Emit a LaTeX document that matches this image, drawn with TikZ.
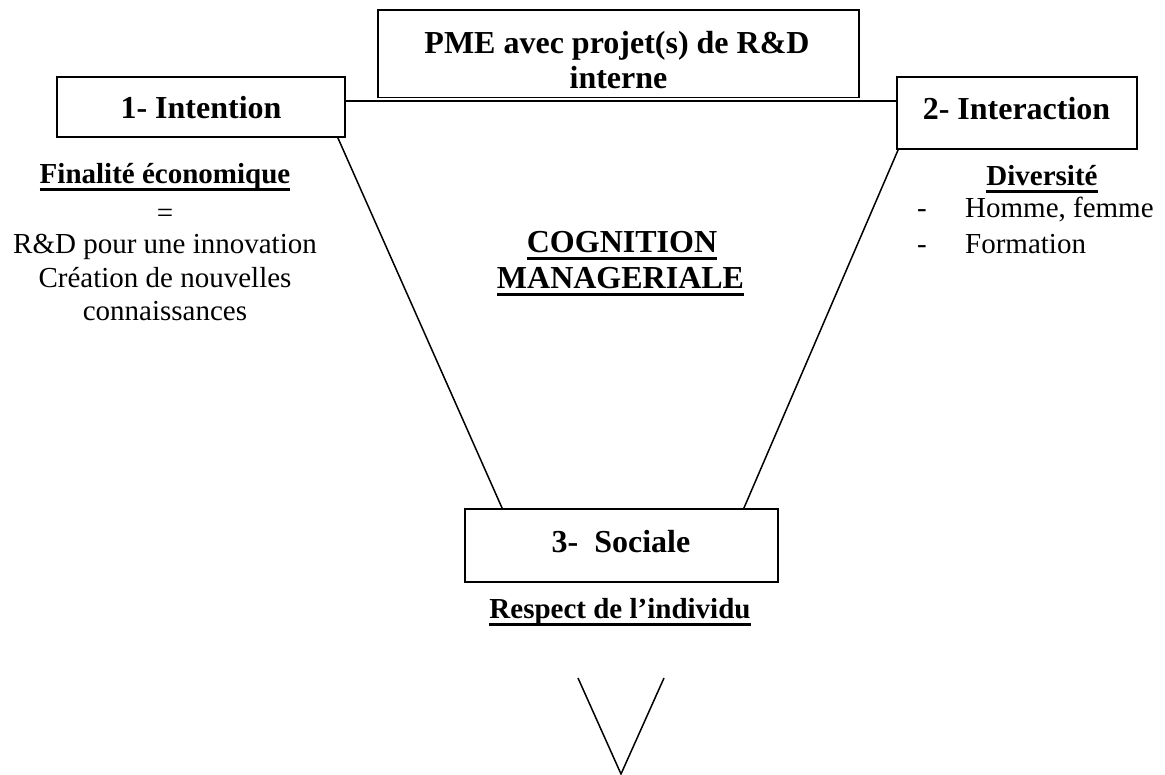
\documentclass[tikz,border=0pt]{standalone}
\usepackage{fontspec}
\setmainfont{Liberation Serif}
\usetikzlibrary{calc}
% thick underline drawn under a box of text
\newsavebox\ulbox
\newcommand\ulin[1]{\sbox\ulbox{#1}\usebox\ulbox\llap{\rule[-0.26em]{\wd\ulbox}{0.09em}}}
\begin{document}
\begin{tikzpicture}[x=1pt,y=-1pt,
  framebox/.style={draw, line width=1.8pt, inner sep=0pt},
  conn/.style={line width=1.5pt},
  head/.style={font=\bfseries\fontsize{32}{36}\selectfont, inner sep=0pt, anchor=base},
  body/.style={font=\fontsize{29}{33}\selectfont, inner sep=0pt, anchor=base},
  bodyb/.style={font=\bfseries\fontsize{29}{33}\selectfont, inner sep=0pt, anchor=base}]
\useasboundingbox (0,0) rectangle (1165,774);

% frames
\node[framebox, minimum width=481, minimum height=87.5] (top) at (618.5,53.75) {};
\node[framebox, minimum width=288, minimum height=60] (b1) at (201,107) {};
\node[framebox, minimum width=240, minimum height=72] (b2) at (1017,113) {};
\node[framebox, minimum width=313, minimum height=73] (b3) at (621.5,545.5) {};

% frame titles
\node[head] (toptxt1) at (617,53) {PME avec projet(s) de R\&D};
\node[head] (toptxt2) at (618.5,88) {interne};
\node[head] (t1) at (201,118) {1- Intention};
\node[head] (t2) at (1016.5,119) {2- Interaction};
\node[head] (t3) at (621,552) {3-~ Sociale};

% connectors
\coordinate (hl) at (0,101);
\draw[conn] (b1.east |- hl) -- (b2.west |- hl);
\draw[conn] ($(b1.south east)+(-8,0)$) -- ($(b3.north west)+(38,0)$);
\draw[conn] ($(b2.south west)+(2,0)$) -- ($(b3.north east)+(-35,0)$);

% centre
\node[head] (cog1) at (622,252) {\ulin{COGNITION}};
\node[head] (cog2) at (620.5,288) {\ulin{MANAGERIALE}};

% left column
\node[bodyb] (fin) at (165,183) {\ulin{Finalité économique}};
\node[body] (eq) at (165,222) {=};
\node[body] (l1) at (165,253) {R\&D pour une innovation};
\node[body] (l2) at (165,287) {Création de nouvelles};
\node[body] (l3) at (165,320) {connaissances};

% right column
\node[bodyb] (div) at (1042,185) {\ulin{Diversité}};
\node[body, anchor=base west] (d1) at (917,217) {-};
\node[body, anchor=base west] (r1) at (965,217) {Homme, femme};
\node[body, anchor=base west] (d2) at (917,253) {-};
\node[body, anchor=base west] (r2) at (965,253) {Formation};

% bottom
\node[bodyb] (resp) at (620,618) {\ulin{Respect de l’individu}};
\coordinate (vl) at (578,678);
\coordinate (vb) at (621,774);
\coordinate (vr) at (664,678);
\draw[conn] (vl) -- (vb) -- (vr);
\end{tikzpicture}
\end{document}
